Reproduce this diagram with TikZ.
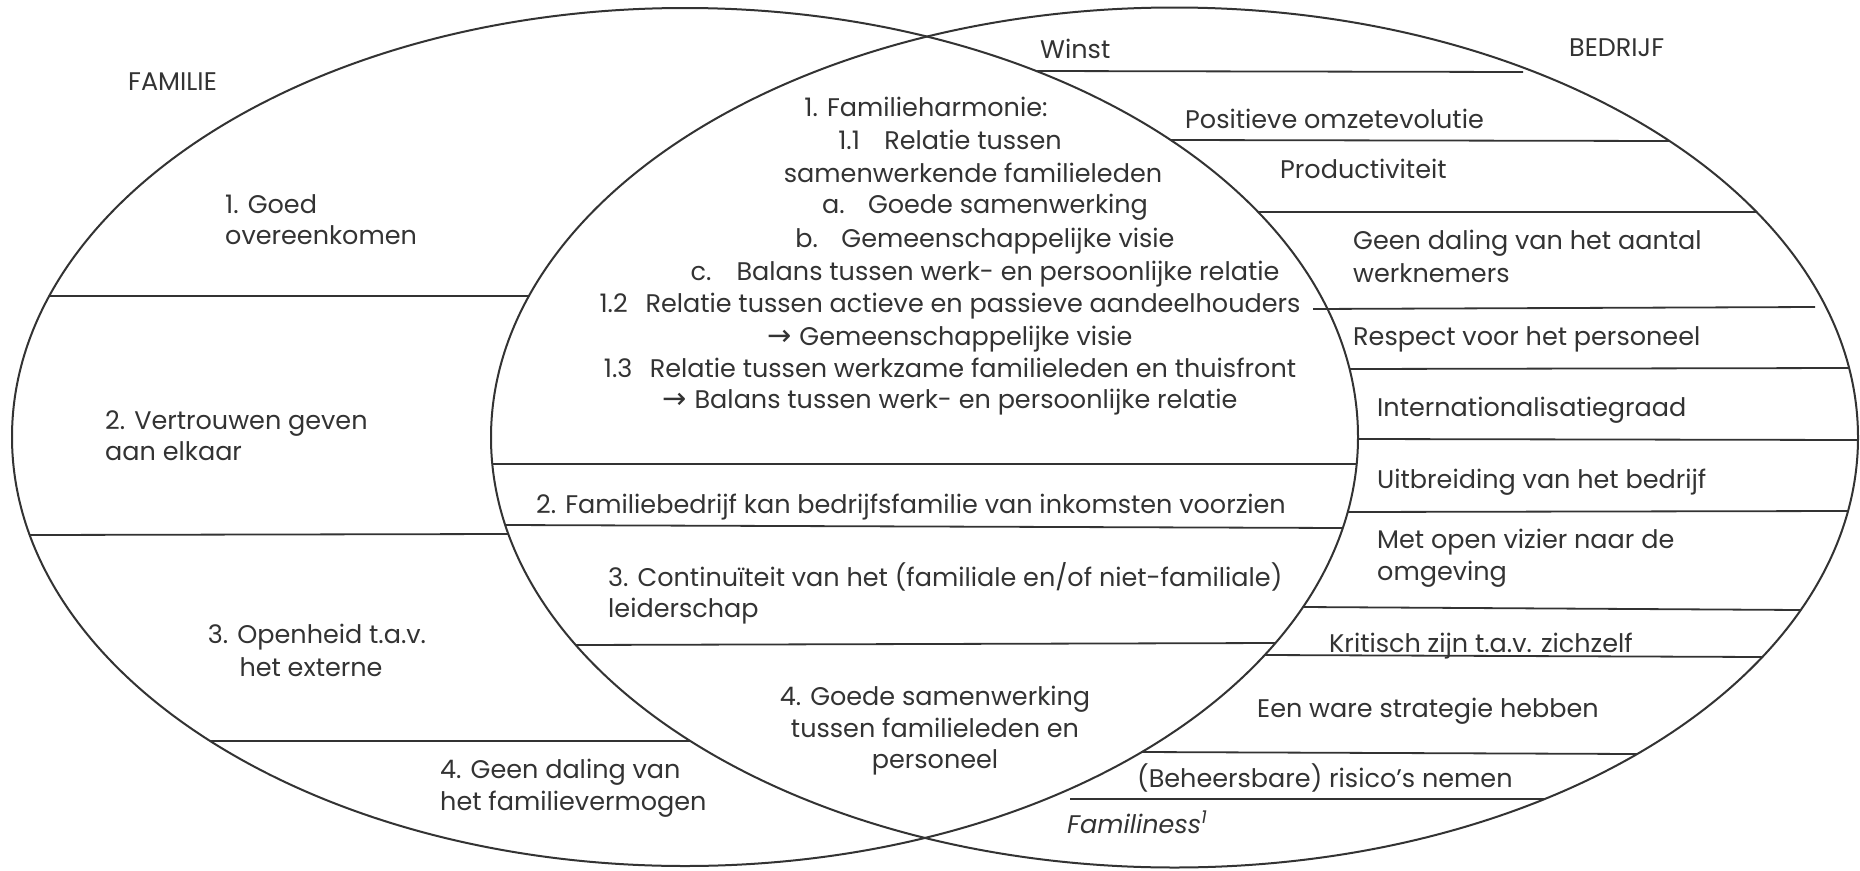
\documentclass[tikz,border=0pt]{standalone}
\usepackage{fontspec}
\setmainfont{Poppins}
\newfontfamily\arrowfont{DejaVu Sans}
\definecolor{ink}{HTML}{333333}
% Horizontal extent of the two ellipses at a given height y
\pgfmathdeclarefunction{famL}{1}{\pgfmathparse{685-673*sqrt(1-((#1-437)/429)^2)}}
\pgfmathdeclarefunction{famR}{1}{\pgfmathparse{685+673*sqrt(1-((#1-437)/429)^2)}}
\pgfmathdeclarefunction{bedL}{1}{\pgfmathparse{1174.5-683.5*sqrt(1-((#1-437.5)/430)^2)}}
\pgfmathdeclarefunction{bedR}{1}{\pgfmathparse{1174.5+683.5*sqrt(1-((#1-437.5)/430)^2)}}
\newcommand{\arr}{\makebox[32pt][l]{\arrowfont\fontsize{29}{32}\selectfont →}}
\newcommand{\tabbox}[1]{\makebox[46pt][l]{#1}}
\begin{document}
\begin{tikzpicture}[x=1pt,y=-1pt,
  every node/.style={inner sep=0pt, text=ink, font=\fontsize{25.5}{30}\selectfont},
  txt/.style={anchor=base west},
  ctxt/.style={anchor=base},
  sep/.style={draw=ink, line width=1.8pt},
  rim/.style={draw=ink, line width=2pt}]
\fill[white] (0,0) rectangle (1860,870);
\useasboundingbox (0,0) rectangle (1860,870);

% the two overlapping sets
\draw[rim] (685,437) ellipse [x radius=673pt, y radius=429pt];
\draw[rim] (1174.5,437.5) ellipse [x radius=683.5pt, y radius=430pt];

% dividers, family side
\draw[sep] ({famL(296)},296) -- ({bedL(296)},296);
\draw[sep] ({famL(535)},535) -- ({bedL(534)},534);
\draw[sep] ({famL(741)},741) -- ({bedL(741)},741);

% dividers, overlap
\draw[sep] ({bedL(464)},464) -- ({famR(464)},464);
\draw[sep] ({bedL(525)},525) -- ({famR(528)},528);
\draw[sep] ({bedL(645)},645) -- ({famR(643)},643);

% dividers, business side
\draw[sep] ({famR(71)},71) -- (1523,72);
\draw[sep] ({famR(140)},140) -- ({bedR(141)},141);
\draw[sep] ({famR(212)},212) -- ({bedR(212)},212);
\draw[sep] (1313,309) -- (1815,307);
\draw[sep] ({famR(369)},369) -- ({bedR(368)},368);
\draw[sep] ({famR(439)},439) -- ({bedR(440)},440);
\draw[sep] ({famR(512)},512) -- ({bedR(511)},511);
\draw[sep] ({famR(607)},607) -- ({bedR(610)},610);
\draw[sep] ({famR(655)},655) -- ({bedR(657)},657);
\draw[sep] ({famR(752)},752) -- ({bedR(754)},754);
\draw[sep] (1070,799) -- ({bedR(799)},799);

% family side
\node[txt] (famtitle) at (128,90) {FAMILIE};
\node[txt] (f1a) at (225,213) {1. Goed};
\node[txt] (f1b) at (225,244) {overeenkomen};
\node[txt] (f2a) at (105,429) {2. Vertrouwen geven};
\node[txt] (f2b) at (105,460) {aan elkaar};
\node[ctxt] (f3a) at (317,643) {3. Openheid t.a.v.};
\node[ctxt] (f3b) at (311,676) {het externe};
\node[txt] (f4a) at (440,778) {4. Geen daling van};
\node[txt] (f4b) at (440,810) {het familievermogen};

% overlap
\node[ctxt] (o1)  at (926,116) {1. Familieharmonie:};
\node[ctxt] (o2)  at (950,149) {\tabbox{1.1}Relatie tussen};
\node[ctxt] (o3)  at (973,182) {samenwerkende familieleden};
\node[ctxt] (o4)  at (985,213) {\tabbox{a.}Goede samenwerking};
\node[ctxt] (o5)  at (985,247) {\tabbox{b.}Gemeenschappelijke visie};
\node[ctxt] (o6)  at (985,280) {\tabbox{c.}Balans tussen werk- en persoonlijke relatie};
\node[ctxt] (o7)  at (950,312) {\tabbox{1.2}Relatie tussen actieve en passieve aandeelhouders};
\node[ctxt] (o8)  at (950,345) {\arr Gemeenschappelijke visie};
\node[ctxt] (o9)  at (950,377) {\tabbox{1.3}Relatie tussen werkzame familieleden en thuisfront};
\node[ctxt] (o10) at (950,408) {\arr Balans tussen werk- en persoonlijke relatie};
\node[ctxt] (o11) at (911,513) {2. Familiebedrijf kan bedrijfsfamilie van inkomsten voorzien};
\node[txt]  (o12) at (608,586) {3. Continuïteit van het (familiale en/of niet-familiale)};
\node[txt]  (o13) at (608,617) {leiderschap};
\node[ctxt] (o14) at (935,705) {4. Goede samenwerking};
\node[ctxt] (o15) at (935,737) {tussen familieleden en};
\node[ctxt] (o16) at (935,768) {personeel};

% business side
\node[txt] (bedtitle) at (1569,56) {BEDRIJF};
\node[txt] (b1)  at (1040,58) {Winst};
\node[txt] (b2)  at (1185,128) {Positieve omzetevolutie};
\node[txt] (b3)  at (1280,178) {Productiviteit};
\node[txt] (b4a) at (1353,249) {Geen daling van het aantal};
\node[txt] (b4b) at (1353,282) {werknemers};
\node[txt] (b5)  at (1353,345) {Respect voor het personeel};
\node[txt] (b6)  at (1377,416) {Internationalisatiegraad};
\node[txt] (b7)  at (1377,488) {Uitbreiding van het bedrijf};
\node[txt] (b8a) at (1377,548) {Met open vizier naar de};
\node[txt] (b8b) at (1377,580) {omgeving};
\node[txt] (b9)  at (1329,652) {Kritisch zijn t.a.v. zichzelf};
\node[txt] (b10) at (1257,717) {Een ware strategie hebben};
\node[txt] (b11) at (1137,787) {(Beheersbare) risico’s nemen};
\node[txt] (fam) at (1067,833) {\textit{Familiness}\textsuperscript{\textit{1}}};
\end{tikzpicture}
\end{document}
